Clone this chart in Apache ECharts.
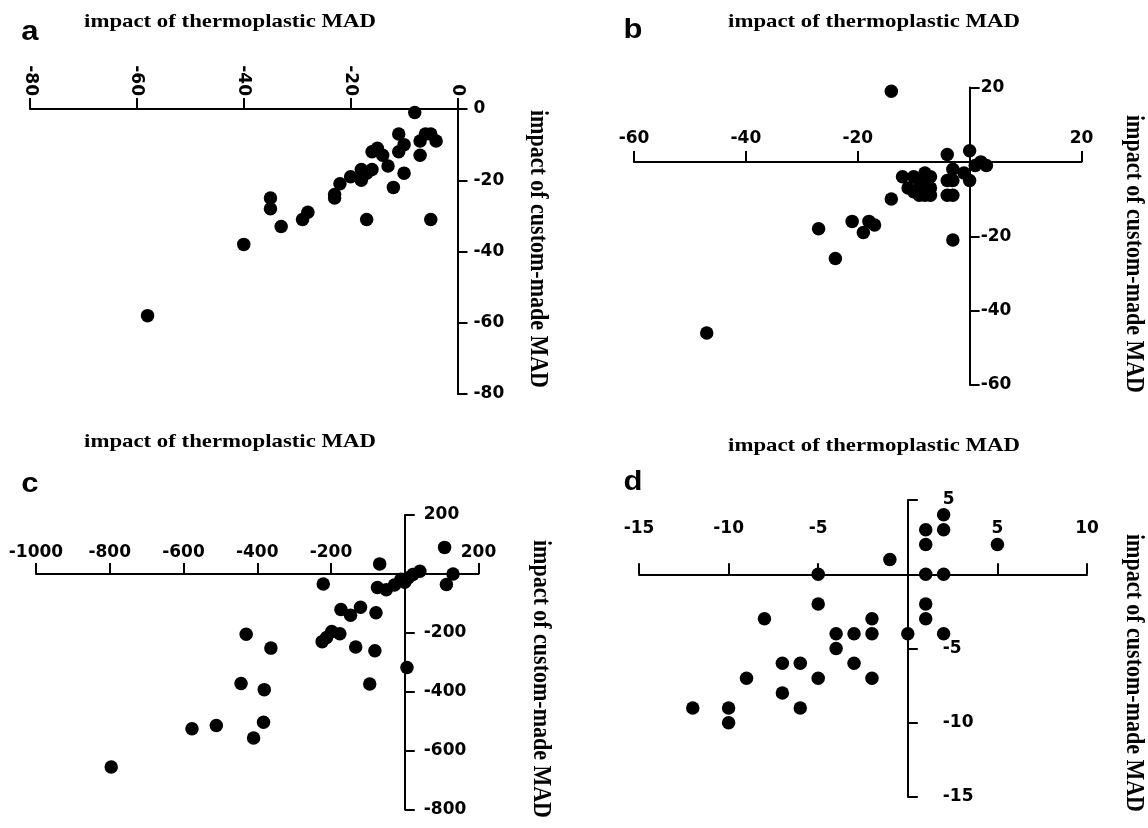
<!DOCTYPE html>
<html>
<head>
<meta charset="utf-8">
<script src="https://cdn.jsdelivr.net/npm/echarts@6/dist/echarts.min.js"></script>
<style>
html,body{margin:0;padding:0;background:#fff;}
#chart{width:1148px;height:828px;}
</style>
</head>
<body>
<div id="chart"></div>
<script>
// ---- Data ----
var titleText = 'impact of thermoplastic MAD';
var yNameText = 'impact of custom-made MAD';
var panelLetters = ['a', 'b', 'c', 'd'];

// Panel a
var aX = [-8,-11,-10,-11,-7,-6,-5,-4,-7,-15,-16,-14,-13,-10,-12,-16,-18,-18,-17,-20,-22,-23,-23,-17,-5,-35,-35,-33,-29,-28,-40,-58];
var aY = [-1,-7,-10,-12,-9,-7,-7,-9,-13,-11,-12,-13,-16,-18,-22,-17,-17,-20,-18,-19,-21,-24,-25,-31,-31,-25,-28,-33,-31,-29,-38,-58];

// Panel b
var bX = [-14,0,-4,2,3,1,-3,-1,0,-4,-3,-4,-3,-12,-10,-8,-7,-11,-10,-9,-8,-8,-7,-7,-9,-9,-14,-21,-18,-17,-19,-27,-24,-3,-47];
var bY = [19,3,2,0,-1,-1,-2,-3,-5,-5,-5,-9,-9,-4,-4,-3,-4,-7,-8,-7,-7,-9,-9,-7,-5,-9,-10,-16,-16,-17,-19,-18,-26,-21,-46];

// Panel c
var cX = [108,131,113,41,22,9,0,-10,-28,-50,-74,-68,-221,-120,-147,-173,-78,-176,-198,-212,-224,-133,-81,6,-95,-430,-363,-444,-381,-383,-410,-511,-577,-796];
var cY = [90,0,-36,9,-2,-14,-28,-18,-38,-54,-46,34,-34,-113,-140,-121,-132,-203,-196,-216,-230,-248,-261,-318,-374,-205,-252,-372,-393,-504,-557,-515,-526,-656];

// Panel d
var dX = [2,2,1,1,5,-1,1,2,-5,-5,1,1,-8,-2,-4,-3,-2,0,2,-4,-7,-6,-3,-9,-5,-2,-7,-12,-10,-6,-10];
var dY = [4,3,3,2,2,1,0,0,0,-2,-2,-3,-3,-3,-4,-4,-4,-4,-4,-5,-6,-6,-6,-7,-7,-7,-8,-9,-9,-9,-10];

// Axis ranges [min, max, interval]
var xRanges = [[-80, 0, 20], [-60, 20, 20], [-1000, 200, 200], [-15, 10, 5]];
var yRanges = [[-80, 0, 20], [-60, 20, 20], [-800, 200, 200], [-15, 5, 5]];

// ---- Layout ----
var grids = [
  {left: 30, top: 109, width: 427.5, height: 285},
  {left: 634, top: 87.5, width: 447.5, height: 297.5},
  {left: 36, top: 515, width: 442.5, height: 294.5},
  {left: 639, top: 500, width: 448, height: 297}
];
var xLabelMargin = [13, 15, 13, 37];
var yLabelMargin = [16, 11, 19, 35];
var titlePos = [[230, 22], [874, 22], [230, 442], [874, 446]];
var letterPos = [[30, 33], [633, 31], [30, 485], [633, 483]];
var yNamePos = [[538, 249], [1134, 254], [541, 679], [1134, 673]];

function zip(xs, ys) { return xs.map(function (v, i) { return [v, ys[i]]; }); }
var seriesData = [zip(aX, aY), zip(bX, bY), zip(cX, cY), zip(dX, dY)];

var labelFont = {fontFamily: 'DejaVu Sans', fontWeight: 'bold', fontSize: 17, color: '#000'};
var lineStyle = {color: '#000', width: 2};

function zeroFmt(showZero) {
  return function (v) { return (v === 0 && !showZero) ? '' : String(v); };
}

var xAxes = [], yAxes = [], series = [], graphics = [];
for (var i = 0; i < 4; i++) {
  var showZero = (i === 0);
  var yr = yRanges[i], xr = xRanges[i], g = grids[i];
  // place each axis line on the other axis's zero (axes cross at the origin)
  var xOffset = -(yr[1] / (yr[1] - yr[0])) * g.height;
  var yOffset = -(xr[1] / (xr[1] - xr[0])) * g.width;
  xAxes.push({
    type: 'value', gridIndex: i, position: 'top', offset: xOffset,
    min: xr[0], max: xr[1], interval: xr[2],
    axisLine: {show: true, onZero: false, lineStyle: lineStyle},
    axisTick: {show: true, length: 11, lineStyle: lineStyle},
    splitLine: {show: false},
    axisLabel: Object.assign({
      margin: xLabelMargin[i],
      rotate: i === 0 ? 90 : 0,
      formatter: zeroFmt(showZero)
    }, labelFont)
  });
  yAxes.push({
    type: 'value', gridIndex: i, position: 'right', offset: yOffset,
    min: yr[0], max: yr[1], interval: yr[2],
    axisLine: {show: true, onZero: false, lineStyle: lineStyle},
    axisTick: {show: true, length: 10, lineStyle: lineStyle},
    splitLine: {show: false},
    axisLabel: Object.assign({
      margin: yLabelMargin[i],
      formatter: zeroFmt(showZero)
    }, labelFont)
  });
  series.push({
    type: 'scatter', xAxisIndex: i, yAxisIndex: i,
    data: seriesData[i], symbol: 'circle', symbolSize: 13.5,
    itemStyle: {color: '#000', opacity: 1}
  });
  graphics.push({
    type: 'text', x: titlePos[i][0], y: titlePos[i][1], scaleX: 1.2,
    style: {text: titleText, font: 'bold 19px "Liberation Serif"', fill: '#000',
      align: 'center', verticalAlign: 'middle', textAlign: 'center', textVerticalAlign: 'middle'}
  });
  graphics.push({
    type: 'text', x: letterPos[i][0], y: letterPos[i][1], scaleX: 1.15,
    style: {text: panelLetters[i], font: 'bold 27px "Liberation Sans"', fill: '#000',
      align: 'center', verticalAlign: 'middle', textAlign: 'center', textVerticalAlign: 'middle'}
  });
  graphics.push({
    type: 'text', x: yNamePos[i][0], y: yNamePos[i][1], rotation: -Math.PI / 2, scaleY: 1.15,
    style: {text: yNameText, font: 'bold 22px "Liberation Serif"', fill: '#000',
      align: 'center', verticalAlign: 'middle', textAlign: 'center', textVerticalAlign: 'middle'}
  });
}

var chart = echarts.init(document.getElementById('chart'), null, {renderer: 'canvas'});
chart.setOption({
  animation: false,
  backgroundColor: '#fff',
  grid: grids,
  xAxis: xAxes,
  yAxis: yAxes,
  series: series,
  graphic: graphics
});
</script>
</body>
</html>
